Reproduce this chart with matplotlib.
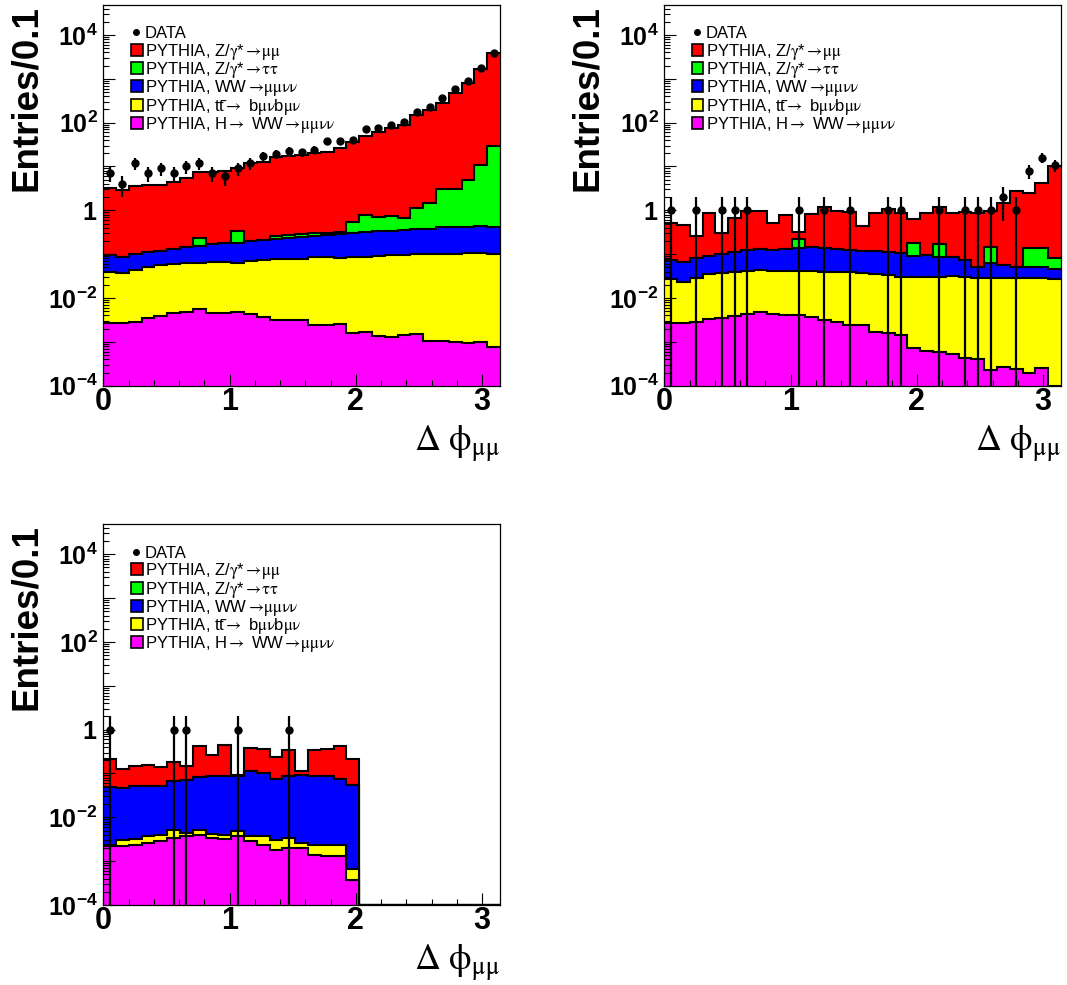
import numpy as np
import matplotlib
matplotlib.use('Agg')
import matplotlib.pyplot as plt
from matplotlib.patches import Rectangle
from matplotlib.ticker import (LogLocator, FuncFormatter, FixedLocator,
                               MultipleLocator, NullFormatter)

plt.rcParams.update({
    'font.family': ['Liberation Sans', 'DejaVu Sans'],
    'mathtext.fontset': 'custom',
    'mathtext.rm': 'Liberation Sans',
    'mathtext.bf': 'Liberation Sans:bold',
    'mathtext.it': 'Liberation Sans:italic',
})

# 31 bins of width pi/31 between 0 and pi
EDGES = np.linspace(0, np.pi, 32)
CENTERS = 0.5 * (EDGES[1:] + EDGES[:-1])
YMIN, YMAX = 1e-4, 4.9e4

# ---- top left ----
data_a = [7, 4, 12, 7, 9, 7, 10, 12, 7, 6, 9, 12, 17, 19, 23, 21, 24, 39, 39, 40,
          71, 77, 88, 106, 178, 232, 359, 576, 890, 1740, 3800]
h_a = [2.74e-3, 2.64e-3, 2.88e-3, 3.44e-3, 3.98e-3, 4.62e-3, 4.9e-3, 5.5e-3, 4.47e-3,
       4.47e-3, 4.68e-3, 4.27e-3, 3.72e-3, 3.16e-3, 3.16e-3, 3.16e-3, 2.42e-3, 2.42e-3,
       2.55e-3, 1.62e-3, 1.71e-3, 1.36e-3, 1.32e-3, 1.43e-3, 1.51e-3, 1.06e-3, 1.06e-3,
       9.7e-4, 9.2e-4, 9.7e-4, 7.8e-4]
tt_a = [0.0373, 0.0354, 0.0407, 0.0466, 0.0526, 0.0551, 0.0568, 0.0585, 0.063, 0.063,
        0.0593, 0.0655, 0.0699, 0.073, 0.0757, 0.0757, 0.0823, 0.0823, 0.0804, 0.0861,
        0.083, 0.0894, 0.0927, 0.0946, 0.0995, 0.0979, 0.0999, 0.100, 0.1036, 0.1035, 0.0982]
ww_a = [0.056, 0.050, 0.055, 0.060, 0.063, 0.071, 0.081, 0.090, 0.104, 0.110, 0.119,
        0.133, 0.140, 0.150, 0.155, 0.172, 0.175, 0.189, 0.200, 0.211, 0.235, 0.241,
        0.250, 0.260, 0.274, 0.283, 0.309, 0.323, 0.320, 0.342, 0.325]
tau_a = [0, 0, 0, 0, 0, 0, 0, 0.076, 0, 0, 0.155, 0, 0, 0.034, 0.045, 0.038, 0.039,
         0.036, 0.043, 0.25, 0.46, 0.385, 0.41, 0.30, 0.735, 1.12, 2.66, 2.65, 4.58,
         10.35, 29.0]
mumu_a = [3.08, 2.82, 3.49, 3.61, 3.66, 4.38, 5.42, 7.13, 7.19, 7.86, 8.74, 11.6, 12.7,
          16.5, 17.1, 17.7, 19.7, 20.7, 25.7, 36.3, 48.9, 61.7, 73.4, 87.8, 149, 193,
          283, 480, 784, 1637, 3925]

# ---- top right ----
data_b = [1, 0, 1, 0, 1, 1, 1, 0, 0, 0, 1, 0, 1, 0, 1, 0, 0, 1, 1, 0, 0, 1, 0, 1, 1,
          1, 2, 1, 8, 16, 11]
h_b = [2.64e-3, 2.74e-3, 2.88e-3, 3.26e-3, 3.44e-3, 3.95e-3, 4.32e-3, 4.71e-3, 4.24e-3,
       4.09e-3, 4.09e-3, 3.75e-3, 3.16e-3, 2.79e-3, 2.42e-3, 2.42e-3, 1.71e-3, 1.62e-3,
       1.43e-3, 7.1e-4, 6.2e-4, 6.0e-4, 5.2e-4, 4.2e-4, 4.1e-4, 2.3e-4, 2.7e-4, 2.4e-4,
       2.0e-4, 2.5e-4, 0]
tt_b = [0.0241, 0.0209, 0.0262, 0.0314, 0.0344, 0.0359, 0.0377, 0.0388, 0.0378, 0.0379,
        0.0379, 0.0376, 0.0366, 0.037, 0.0361, 0.0342, 0.0336, 0.0319, 0.0293, 0.030,
        0.029, 0.0301, 0.0313, 0.0303, 0.0287, 0.0289, 0.0288, 0.0289, 0.0289, 0.0288,
        0.0271]
ww_b = [0.0469, 0.0415, 0.0512, 0.0561, 0.0612, 0.0742, 0.0825, 0.0855, 0.0825, 0.087,
        0.099, 0.1067, 0.0962, 0.0892, 0.086, 0.0834, 0.0847, 0.0805, 0.0773, 0.0601,
        0.0661, 0.057, 0.0529, 0.0429, 0.0228, 0.0349, 0.0275, 0.0228, 0.0228, 0.0209,
        0.0188]
tau_b = [0, 0, 0, 0, 0, 0, 0, 0, 0, 0, 0.077, 0, 0, 0, 0, 0, 0, 0, 0, 0.086, 0, 0.08,
         0, 0, 0, 0.084, 0, 0, 0.085, 0.085, 0.037]
mumu_b = [0.43, 0.40, 0.184, 0.76, 0.20, 0.54, 0.855, 0.85, 0.40, 0.65, 0.108, 0.68,
          1.07, 0.84, 0.81, 0.32, 0.735, 0.94, 0.75, 0.45, 0.78, 1.0, 0.77, 0.83, 0.80,
          0.83, 1.38, 2.76, 2.39, 4.14, 10.2]

# ---- bottom left ----
data_c = [1, 0, 0, 0, 0, 1, 1, 0, 0, 0, 1, 0, 0, 0, 1] + [0] * 16
h_c = [2.18e-3, 2.18e-3, 2.3e-3, 2.6e-3, 2.94e-3, 3.38e-3, 3.69e-3, 4.02e-3, 3.38e-3,
       3.2e-3, 3.69e-3, 2.83e-3, 2.38e-3, 1.83e-3, 2.0e-3, 2.0e-3, 1.41e-3, 1.29e-3,
       1.33e-3, 3.8e-4] + [0] * 11
tt_c = [1e-4, 8.1e-4, 9.6e-4, 1.09e-3, 1.08e-3, 1.85e-3, 7.1e-4, 1.21e-3, 8.6e-4,
        8.2e-4, 1.11e-3, 9.9e-4, 1.44e-3, 1.16e-3, 1.38e-3, 6.0e-4, 9.7e-4, 1.09e-3,
        1.05e-3, 3.0e-4] + [0] * 11
ww_c = [0.0469, 0.0437, 0.0477, 0.0491, 0.0488, 0.0635, 0.0656, 0.078, 0.082, 0.0822,
        0.0845, 0.108, 0.0988, 0.0732, 0.0859, 0.0882, 0.0869, 0.0838, 0.0726,
        0.0549] + [0] * 11
tau_c = [0] * 31
mumu_c = [0.165, 0.082, 0.095, 0.10, 0.088, 0.111, 0.076, 0.334, 0.174, 0.369, 0.005,
          0.27, 0.26, 0.162, 0.249, 0.021, 0.261, 0.283, 0.342, 0.162] + [0] * 11

# stack order bottom -> top: H, ttbar, WW, Z->tautau, Z->mumu
STACK_COLORS = ['#ff00ff', '#ffff00', '#0000ff', '#00ff00', '#ff0000']
LEG_LABELS = [r'PYTHIA, Z/$\mathrm{\gamma}$*$\rightarrow\!\mathrm{\mu\mu}$',
              r'PYTHIA, Z/$\mathrm{\gamma}$*$\rightarrow\!\mathrm{\tau\tau}$',
              r'PYTHIA, WW$\rightarrow\!\mathrm{\mu\mu\nu\nu}$',
              'PYTHIA, tt\u0304$\\rightarrow$ b$\\mathrm{\\mu\\nu}$b$\\mathrm{\\mu\\nu}$',
              r'PYTHIA, H$\rightarrow$ WW$\rightarrow\!\mathrm{\mu\mu\nu\nu}$']
LEG_COLORS = STACK_COLORS[::-1]

AX_W, AX_H = 396.7, 381.0   # axes size in pixels


def ylab(v, pos):
    e = int(round(np.log10(v)))
    if e % 2:
        return ''
    if e == 0:
        return r'$\mathbf{1}$'
    return r'$\mathbf{10^{%d}}$' % e


def draw_legend(ax):
    fx = lambda px: px / AX_W
    fy = lambda py: 1 - py / AX_H
    ax.plot([fx(33)], [fy(27.5)], 'o', color='k', ms=4, transform=ax.transAxes,
            clip_on=False)
    ax.text(fx(41.5), fy(33.5), 'DATA', transform=ax.transAxes, fontsize=12,
            va='baseline', ha='left')
    for i, (lab, col) in enumerate(zip(LEG_LABELS, LEG_COLORS)):
        yc = 45.3 + 18.2 * i
        ax.add_patch(Rectangle((fx(27.8), fy(yc + 6)), 11.4 / AX_W, 12 / AX_H,
                               transform=ax.transAxes, facecolor=col, edgecolor='k',
                               lw=1.2, clip_on=False))
        ax.text(fx(41.5), fy(yc + 6), lab, transform=ax.transAxes, fontsize=12,
                va='baseline', ha='left', math_fontfamily='stix')


def draw_panel(ax, data, h, tt, ww, tau, mumu):
    comps = np.array([h, tt, ww, tau, mumu], dtype=float)
    cum = np.cumsum(comps, axis=0)
    for lev, col in reversed(list(zip(cum, STACK_COLORS))):
        ax.stairs(np.where(lev > 0, lev, 1e-8), EDGES, baseline=1e-8, fill=True,
                  color=col, lw=0)
        ax.stairs(np.maximum(lev, YMIN), EDGES, baseline=None, color='k', lw=1.5)

    d = np.asarray(data, dtype=float)
    m = d > 0
    err = np.sqrt(d[m])
    ax.vlines(CENTERS[m], np.maximum(d[m] - err, 1e-8), d[m] + err, color='k', lw=1.6)
    ax.plot(CENTERS[m], d[m], 'o', color='k', ms=5)

    ax.set_xlim(0, np.pi)
    ax.set_yscale('log')
    ax.set_ylim(YMIN, YMAX)
    ax.xaxis.set_major_locator(FixedLocator([0, 1, 2, 3]))
    ax.xaxis.set_minor_locator(MultipleLocator(0.2))
    ax.yaxis.set_major_locator(LogLocator(base=10, numticks=40))
    ax.yaxis.set_minor_locator(LogLocator(base=10, subs=np.arange(2, 10), numticks=40))
    ax.yaxis.set_major_formatter(FuncFormatter(ylab))
    ax.yaxis.set_minor_formatter(NullFormatter())
    ax.tick_params(which='both', direction='in', top=False, right=False, width=0.8)
    ax.tick_params(which='major', length=8.5)
    ax.tick_params(which='minor', length=4.5)
    ax.tick_params(axis='x', labelsize=22, pad=1)
    ax.tick_params(axis='y', labelsize=18, pad=4)
    for lab in ax.get_xticklabels():
        lab.set_fontweight('bold')
    for sp in ax.spines.values():
        sp.set_linewidth(0.9)

    ax.text(1.0, -0.17, r'$\mathrm{\Delta\ \phi_{\mu\mu}}$', transform=ax.transAxes,
            ha='right', va='baseline', fontsize=26, math_fontfamily='stix')
    draw_legend(ax)


fig = plt.figure(figsize=(10.67, 9.85), dpi=100)
W, H = 1067.0, 985.0

panels = [
    (103.3, 4.7, data_a, h_a, tt_a, ww_a, tau_a, mumu_a, 27),
    (664.3, 4.7, data_b, h_b, tt_b, ww_b, tau_b, mumu_b, 588),
    (103.3, 524.0, data_c, h_c, tt_c, ww_c, tau_c, mumu_c, 27),
]
for left, top, d, h, tt, ww, tau, mm, ylx in panels:
    ax = fig.add_axes([left / W, 1 - (top + AX_H) / H, AX_W / W, AX_H / H])
    draw_panel(ax, d, h, tt, ww, tau, mm)
    fig.text(ylx / W, 1 - top / H, 'Entries/0.1', rotation=90, ha='center', va='top',
             fontsize=26.5, fontweight='bold')

fig.savefig('out.png', dpi=100)
